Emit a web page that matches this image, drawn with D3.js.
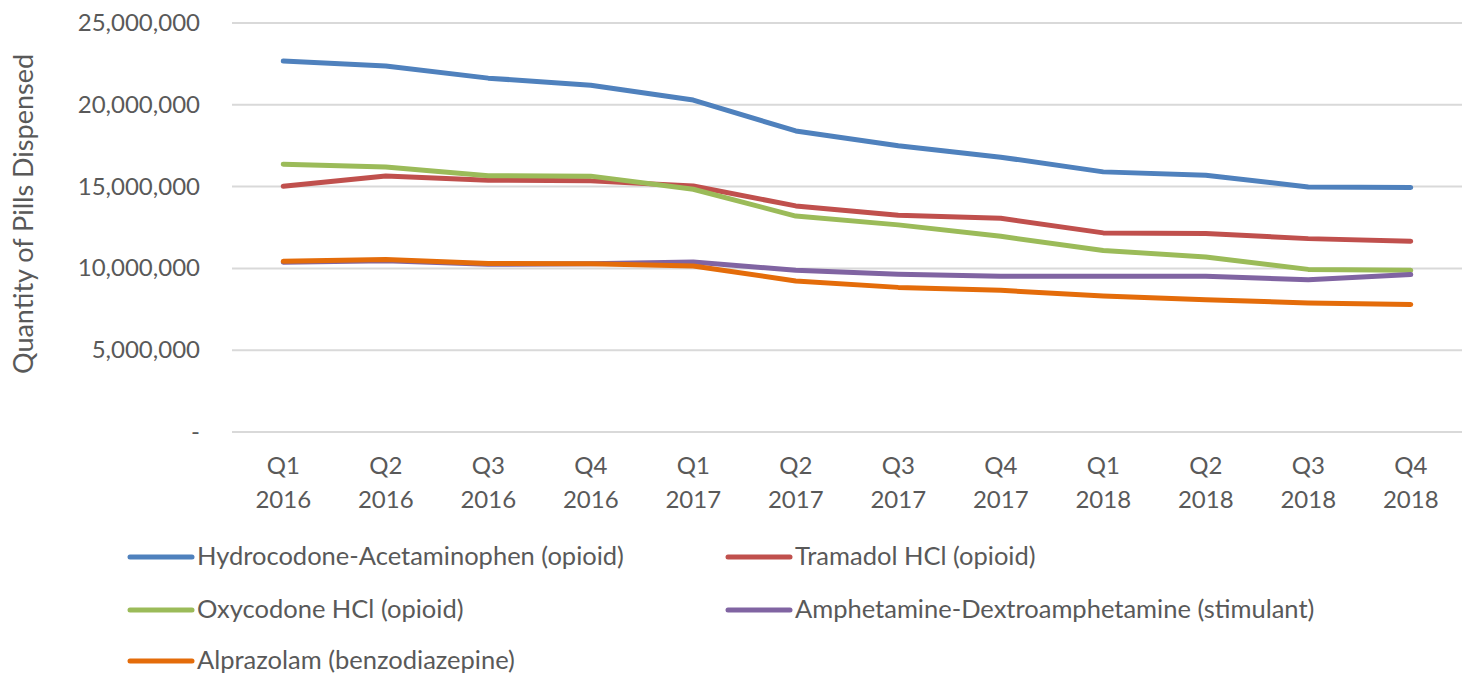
<!DOCTYPE html>
<html>
<head>
<meta charset="utf-8">
<script src="https://cdn.jsdelivr.net/npm/d3@7"></script>
<style>
  body { margin: 0; background: #fff; }
  svg text { font-family: Lato, "Open Sans", sans-serif; fill: #595959; }
</style>
</head>
<body>
<div id="chart"></div>
<script>
// quarters shown on the x axis (two-line labels)
const quarters = ['Q1', 'Q2', 'Q3', 'Q4', 'Q1', 'Q2', 'Q3', 'Q4', 'Q1', 'Q2', 'Q3', 'Q4'];
const years = ['2016', '2016', '2016', '2016', '2017', '2017', '2017', '2017', '2018', '2018', '2018', '2018'];

// pills dispensed per quarter
const hydrocodone = [22670000, 22370000, 21630000, 21200000, 20290000, 18400000, 17500000, 16800000, 15900000, 15700000, 14980000, 14950000];
const tramadol = [15020000, 15650000, 15390000, 15350000, 15040000, 13820000, 13250000, 13060000, 12170000, 12130000, 11820000, 11660000];
const oxycodone = [16370000, 16200000, 15670000, 15640000, 14840000, 13200000, 12660000, 11960000, 11100000, 10700000, 9940000, 9880000];
const amphetamine = [10380000, 10460000, 10250000, 10290000, 10390000, 9880000, 9640000, 9520000, 9520000, 9520000, 9310000, 9620000];
const alprazolam = [10430000, 10540000, 10300000, 10290000, 10150000, 9230000, 8840000, 8660000, 8320000, 8090000, 7880000, 7800000];

const seriesNames = ['Hydrocodone-Acetaminophen (opioid)', 'Tramadol HCl (opioid)', 'Oxycodone HCl (opioid)',
  'Amphetamine-Dextroamphetamine (stimulant)', 'Alprazolam (benzodiazepine)'];
const seriesValues = [hydrocodone, tramadol, oxycodone, amphetamine, alprazolam];
const colors = ['#4F81BD', '#C0504D', '#9BBB59', '#8064A2', '#E46C0A'];
const yTicks = [0, 5000000, 10000000, 15000000, 20000000, 25000000];

const width = 1467, height = 677;
const margin = {left: 232, right: 5, top: 23, bottom: 245};

const svg = d3.select('#chart').append('svg')
  .attr('width', width).attr('height', height);

const x = d3.scaleBand()
  .domain(d3.range(quarters.length))
  .range([margin.left, width - margin.right]);

const y = d3.scaleLinear()
  .domain([0, 25000000])
  .range([height - margin.bottom, margin.top]);

// horizontal gridlines
svg.append('g')
  .selectAll('line')
  .data(yTicks)
  .join('line')
  .attr('x1', margin.left).attr('x2', width - margin.right)
  .attr('y1', d => y(d)).attr('y2', d => y(d))
  .attr('stroke', '#D9D9D9').attr('stroke-width', 2);

// y axis tick labels ("-" for zero, like Excel accounting format)
svg.append('g')
  .selectAll('text')
  .data(yTicks)
  .join('text')
  .attr('x', 200)
  .attr('y', d => y(d) + 8)
  .attr('text-anchor', 'end')
  .style('font-size', '24px')
  .text(d => d === 0 ? '-' : d3.format(',')(d));

// y axis title
svg.append('text')
  .attr('transform', 'translate(33,214) rotate(-90)')
  .attr('text-anchor', 'middle')
  .style('font-size', '27px')
  .text('Quantity of Pills Dispensed');

// x axis labels, two lines each
const xLab = svg.append('g')
  .selectAll('text')
  .data(quarters)
  .join('text')
  .attr('text-anchor', 'middle')
  .style('font-size', '24px');
xLab.append('tspan')
  .attr('x', (d, i) => x(i) + x.bandwidth() / 2)
  .attr('y', 474)
  .text(d => d);
xLab.append('tspan')
  .attr('x', (d, i) => x(i) + x.bandwidth() / 2)
  .attr('y', 508)
  .text((d, i) => years[i]);

// series lines
const line = d3.line()
  .x((d, i) => x(i) + x.bandwidth() / 2)
  .y(d => y(d));

svg.append('g')
  .selectAll('path')
  .data(seriesValues)
  .join('path')
  .attr('d', d => line(d))
  .attr('fill', 'none')
  .attr('stroke', (d, i) => colors[i])
  .attr('stroke-width', 5)
  .attr('stroke-linecap', 'round')
  .attr('stroke-linejoin', 'round');

// legend: two columns, three rows
const legendPos = [[130, 557], [728, 557], [130, 610], [728, 610], [130, 661]];
const legend = svg.append('g')
  .selectAll('g')
  .data(seriesNames)
  .join('g')
  .attr('transform', (d, i) => `translate(${legendPos[i][0]},${legendPos[i][1]})`);
legend.append('line')
  .attr('x1', 0).attr('x2', 62)
  .attr('stroke', (d, i) => colors[i])
  .attr('stroke-width', 5)
  .attr('stroke-linecap', 'round');
legend.append('text')
  .attr('x', 67).attr('y', 8)
  .style('font-size', '25.5px')
  .text(d => d);
</script>
</body>
</html>
